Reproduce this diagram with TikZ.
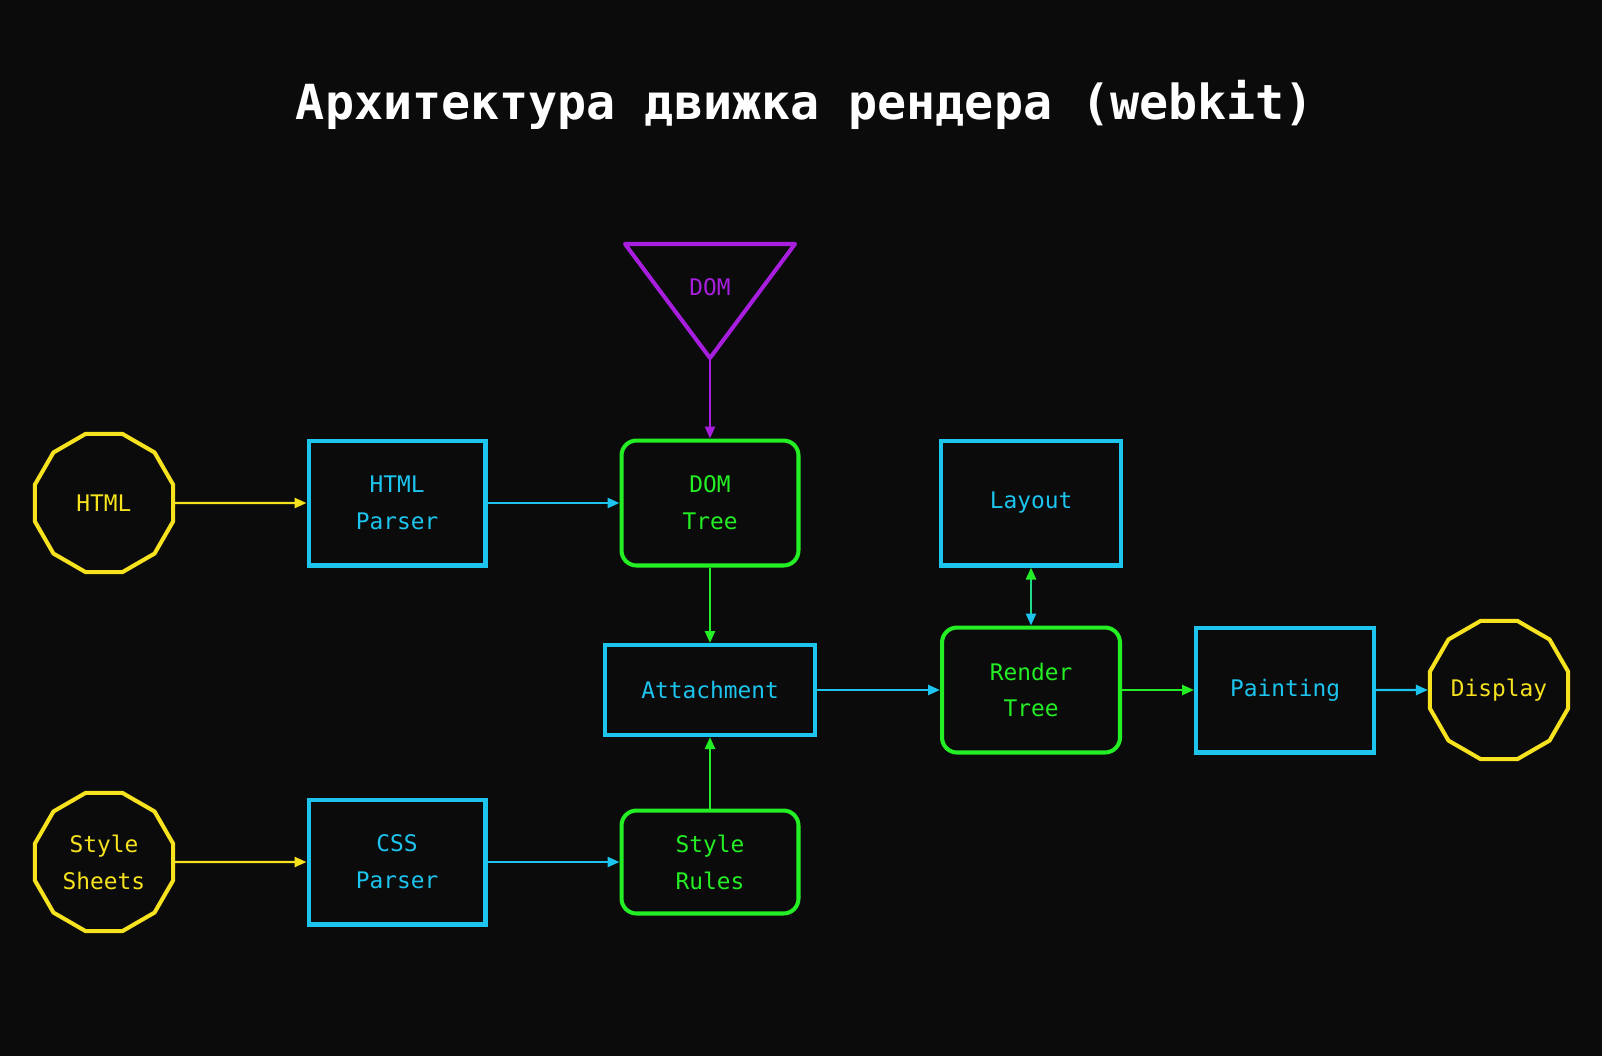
\documentclass[tikz,border=0pt]{standalone}
\usepackage{fontspec}
\setmonofont{DejaVu Sans Mono}
\usetikzlibrary{shapes.geometric, arrows.meta}
\definecolor{WKBack}{RGB}{11,11,11}
\definecolor{WKYellow}{RGB}{246,226,30}
\definecolor{WKCyan}{RGB}{28,196,238}
\definecolor{WKGreen}{RGB}{36,238,36}
\definecolor{WKPurple}{RGB}{168,30,222}

\begin{document}
\begin{tikzpicture}[x=0.02cm, y=-0.02cm,
    lbl/.style={font=\ttfamily\fontsize{13}{21}\selectfont, align=center},
    srcbox/.style={lbl, draw=WKYellow, text=WKYellow, line width=2.3pt,
      regular polygon, regular polygon sides=12, minimum size=2.86cm, inner sep=0pt},
    procbox/.style={lbl, draw=WKCyan, text=WKCyan, line width=2.3pt,
      minimum width=3.54cm, minimum height=2.5cm},
    databox/.style={lbl, draw=WKGreen, text=WKGreen, line width=2.3pt,
      rounded corners=0.3cm, minimum width=3.54cm, minimum height=2.5cm},
    flow/.style={line width=1.4pt, -{Triangle[length=0.24cm, width=0.2cm]}}]
  % Background and title
  \fill[WKBack] (0,0) rectangle (1602,1056);
  \node[font=\ttfamily\bfseries\fontsize{27.5}{34}\selectfont, text=white] (title) at (805,105)
    {Архитектура движка рендера (webkit)};

  % Sources
  \node[srcbox] (html) at (104,503) {HTML};
  \node[srcbox] (sheets) at (104,862) {Style\\Sheets};
  \node[srcbox] (display) at (1499,690) {Display};

  % Parsers and stages
  \node[procbox] (hparser) at (397,503) {HTML\\Parser};
  \node[procbox] (cssparser) at (397,862) {CSS\\Parser};
  \node[procbox, minimum width=4.2cm, minimum height=1.8cm] (attach) at (710,690) {Attachment};
  \node[procbox, minimum width=3.6cm] (layout) at (1031,503) {Layout};
  \node[procbox, minimum width=3.56cm] (paint) at (1285,690) {Painting};

  % Trees and rules
  \node[databox] (domtree) at (710,503) {DOM\\Tree};
  \node[databox, minimum height=2.06cm] (rules) at (710,862) {Style\\Rules};
  \node[databox, minimum width=3.56cm] (rtree) at (1031,690) {Render\\Tree};

  % DOM triangle
  \draw[WKPurple, line width=2.3pt, line join=round] (625,244) -- (795,244) -- (710,358) -- cycle;
  \node[lbl, text=WKPurple] (dom) at (710,287) {DOM};
  \coordinate (domtip) at (710,359);

  % Connectors
  \draw[flow, WKYellow] (html) -- (hparser);
  \draw[flow, WKYellow] (sheets) -- (cssparser);
  \draw[flow, WKCyan] (hparser) -- (domtree);
  \draw[flow, WKCyan] (cssparser) -- (rules);
  \draw[flow, WKPurple] (domtip) -- (domtree.north);
  \draw[flow, WKGreen] (domtree) -- (attach);
  \draw[flow, WKGreen] (rules) -- (attach);
  \draw[flow, WKCyan] (attach) -- (rtree);
  \draw[flow, WKGreen] (rtree) -- (paint);
  \draw[flow, WKCyan] (paint) -- (display);
  \draw[line width=1.4pt, WKGreen!50!WKCyan,
    {Triangle[length=0.24cm, width=0.2cm, color=WKCyan]}-{Triangle[length=0.24cm, width=0.2cm, color=WKGreen]}]
    (rtree) -- (layout);
\end{tikzpicture}
\end{document}
